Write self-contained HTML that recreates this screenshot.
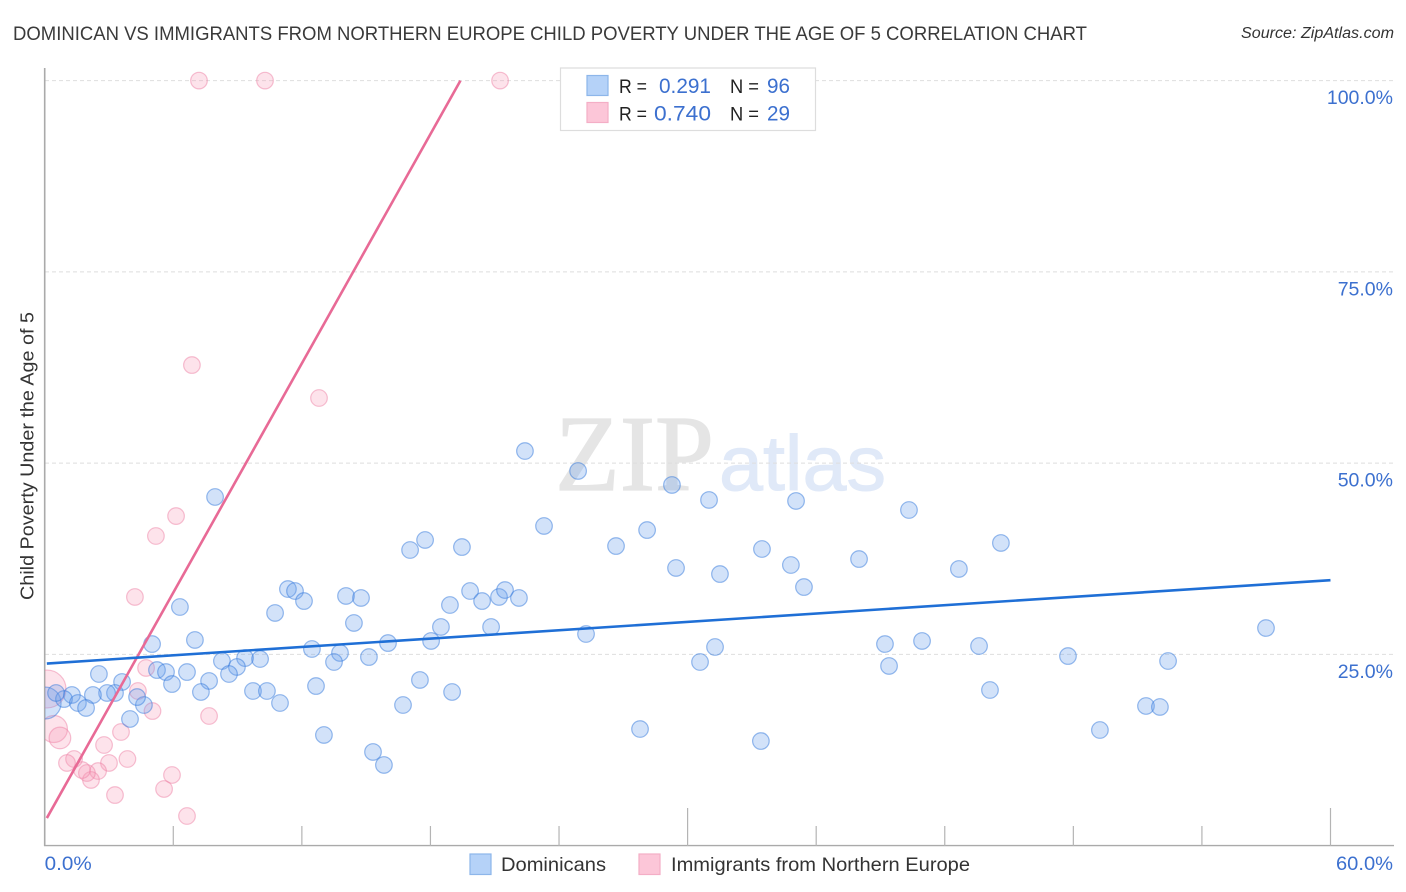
<!DOCTYPE html>
<html lang="en">
<head>
<meta charset="utf-8">
<title>Dominican vs Immigrants from Northern Europe Child Poverty Correlation Chart</title>
<style>
  html, body { margin: 0; padding: 0; background: #fff; }
  svg { display: block; font-family: "Liberation Sans", sans-serif; }
</style>
</head>
<body>
<svg id="chart" xmlns="http://www.w3.org/2000/svg" width="1406" height="892" viewBox="0 0 1406 892">
  <defs>
    <clipPath id="plot-clip"><rect x="45" y="60" width="1349" height="786"></rect></clipPath>
  </defs>
  <rect x="0" y="0" width="1406" height="892" fill="#ffffff"></rect>

  <text x="13" y="40" font-size="19.5" fill="#3a3a3a" textLength="1074" lengthAdjust="spacingAndGlyphs">DOMINICAN VS IMMIGRANTS FROM NORTHERN EUROPE CHILD POVERTY UNDER THE AGE OF 5 CORRELATION CHART</text>
  <text x="1394" y="38" font-size="15.5" font-style="italic" fill="#333333" text-anchor="end" textLength="153" lengthAdjust="spacingAndGlyphs">Source: ZipAtlas.com</text>

  <g>
    <text x="555" y="490" font-family="'Liberation Serif', serif" font-size="108" fill="#e5e5e5" stroke="#e5e5e5" stroke-width="1.2" textLength="159" lengthAdjust="spacingAndGlyphs">ZIP</text>
    <text x="719" y="490" font-size="78" fill="#e0e9f8" stroke="#e0e9f8" stroke-width="1" textLength="167" lengthAdjust="spacingAndGlyphs">atlas</text>
  </g>

  <g id="grid"></g>
  <g id="axes"></g>
  <g id="points" clip-path="url(#plot-clip)"></g>
  <g id="trends"></g>
  <g id="labels"></g>

  <text transform="translate(33.5 600) rotate(-90)" x="0" y="0" font-size="18.5" fill="#333333" textLength="288" lengthAdjust="spacingAndGlyphs">Child Poverty Under the Age of 5</text>

  <g>
    <rect x="560.5" y="68" width="255" height="62.5" fill="#ffffff" stroke="#dddddd" stroke-width="1.2"></rect>
    <rect x="587" y="75.5" width="21" height="20" fill="#b5d2f8" stroke="#8db6ea" stroke-width="1.2"></rect>
    <rect x="587" y="102.5" width="21" height="20" fill="#fcc6d8" stroke="#f4aec6" stroke-width="1.2"></rect>
    <text x="619" y="93" font-size="19.5" fill="#222222" textLength="28" lengthAdjust="spacingAndGlyphs">R =</text>
    <text x="711" y="93" font-size="21.5" fill="#3c70cf" text-anchor="end" textLength="52" lengthAdjust="spacingAndGlyphs">0.291</text>
    <text x="730" y="93" font-size="19.5" fill="#222222" textLength="29" lengthAdjust="spacingAndGlyphs">N =</text>
    <text x="767" y="93" font-size="21.5" fill="#3c70cf" textLength="23" lengthAdjust="spacingAndGlyphs">96</text>
    <text x="619" y="120.5" font-size="19.5" fill="#222222" textLength="28" lengthAdjust="spacingAndGlyphs">R =</text>
    <text x="711" y="120.5" font-size="21.5" fill="#3c70cf" text-anchor="end" textLength="57" lengthAdjust="spacingAndGlyphs">0.740</text>
    <text x="730" y="120.5" font-size="19.5" fill="#222222" textLength="29" lengthAdjust="spacingAndGlyphs">N =</text>
    <text x="767" y="120.5" font-size="21.5" fill="#3c70cf" textLength="23" lengthAdjust="spacingAndGlyphs">29</text>
  </g>

  <g>
    <rect x="470" y="854" width="21" height="20.5" fill="#b5d2f8" stroke="#8db6ea" stroke-width="1.2"></rect>
    <text x="501" y="871" font-size="19.5" fill="#333333" textLength="105" lengthAdjust="spacingAndGlyphs">Dominicans</text>
    <rect x="639" y="854" width="21" height="20.5" fill="#fcc6d8" stroke="#f4aec6" stroke-width="1.2"></rect>
    <text x="671" y="871" font-size="19.5" fill="#333333" textLength="299" lengthAdjust="spacingAndGlyphs">Immigrants from Northern Europe</text>
  </g>
</svg>
<script>
const yTickValues = [25, 50, 75, 100];
const yTickLabels = ["25.0%", "50.0%", "75.0%", "100.0%"];
const xTickValues = [6, 12, 18, 24, 30, 36, 42, 48, 54, 60];
const xMajorTicks = [30, 60];
const xEndValues = [0, 60];
const xEndLabels = ["0.0%", "60.0%"];

// Large population points come first; weights default to 1.
const dominicanWeights = [3.7];
const dominicanX = [0.02,22.41,24.89,29.27,31.00,35.06,40.33,7.95,23.30,28.11,17.75,17.05,19.47,26.66,33.47,44.62,38.00,29.46,31.51,34.82,42.66,35.43,11.35,11.68,12.10,10.75,6.31,14.06,14.76,19.85,21.20,21.48,20.41,22.13,18.91,14.43,18.49,20.83,25.26,56.99,7.01,5.01,12.47,13.78,16.02,18.03,15.13,13.50,9.35,10.05,8.27,8.97,8.60,6.64,5.24,5.66,5.94,2.53,3.61,7.67,7.29,9.72,10.37,12.66,17.51,19.01,39.21,40.94,31.28,30.58,43.60,39.40,47.75,52.42,44.11,51.39,52.04,49.24,27.78,33.42,16.72,10.98,13.03,15.32,15.83,3.98,4.63,4.31,3.28,2.91,2.25,1.27,0.90,1.55,1.93,0.53];
const dominicanY = [18.64,51.58,48.97,47.14,45.18,45.05,43.87,45.57,41.78,41.25,39.95,38.64,39.03,39.16,38.77,39.56,37.46,36.29,35.50,36.68,36.16,33.80,33.54,33.28,31.97,30.41,31.19,32.63,32.37,33.28,32.50,33.41,31.97,32.37,31.45,29.10,28.58,28.58,27.66,28.44,26.88,26.35,25.70,25.18,26.48,26.75,24.65,24.00,24.52,24.39,24.13,23.35,22.43,22.69,22.95,22.69,21.12,22.43,21.39,21.52,20.08,20.21,20.21,20.86,21.65,20.08,26.35,26.75,25.96,24.00,26.09,23.48,24.78,24.13,20.34,18.25,18.12,15.11,15.24,13.67,18.38,18.64,14.46,12.24,10.54,16.55,18.38,19.42,19.95,19.95,19.69,19.69,19.16,18.64,17.99,19.95];

const immigrantWeights = [5.2, 2.65, 1.7];
const immigrantX = [0.11,0.43,0.71,7.20,10.28,21.25,6.87,12.80,6.13,5.19,4.21,4.73,4.35,5.03,7.67,3.56,2.77,3.86,3.00,2.49,2.16,1.97,1.74,1.37,1.04,3.28,5.94,5.57,6.64];
const immigrantY = [20.47,15.24,14.07,100,100,100,62.82,58.51,43.08,40.47,32.50,23.22,20.21,17.59,16.94,14.85,13.15,11.32,10.80,9.75,8.58,9.49,9.88,11.32,10.80,6.61,9.23,7.40,3.87];

const dominicanTrendX = [0.1, 60];
const dominicanTrendY = [23.8, 34.7];
const immigrantTrendX = [0.1, 19.4];
const immigrantTrendY = [3.6, 100];

const NS = 'http://www.w3.org/2000/svg';
const xScale = function (v) { return 44.7 + v * 21.43; };
const yScale = function (v) { return 845.6 - v * 7.65; };
const radiusFor = function (w) { return 8.3 * Math.sqrt(w); };

function make(tag, parentId, attrs, text) {
  const el = document.createElementNS(NS, tag);
  Object.keys(attrs).forEach(function (k) { el.setAttribute(k, attrs[k]); });
  if (text !== undefined) el.textContent = text;
  document.getElementById(parentId).appendChild(el);
  return el;
}

yTickValues.forEach(function (v, i) {
  const line = make('line', 'grid', { x1: 45, x2: 1394, y1: yScale(v), y2: yScale(v), stroke: '#dedede', 'stroke-width': 1, 'stroke-dasharray': '4 3' });
  
  
  const label = make('text', 'labels', { x: 1393, y: yScale(v) + 23.5, 'font-size': 19.5, fill: '#3c70cf', 'text-anchor': 'end' }, yTickLabels[i]);
  
  
});

const yAxis = make('line', 'axes', { x1: 44.7, x2: 44.7, y1: 68, y2: 846, stroke: '#aaaaaa', 'stroke-width': 1.6 });


const xAxis = make('line', 'axes', { x1: 44, x2: 1394, y1: 845.6, y2: 845.6, stroke: '#aaaaaa', 'stroke-width': 1.4 });



xTickValues.forEach(function (v) {
  const top = xMajorTicks.indexOf(v) >= 0 ? 808 : 826;
  const tick = make('line', 'axes', { x1: xScale(v), x2: xScale(v), y1: top, y2: 846, stroke: '#b4b4b4', 'stroke-width': 1.2 });
  
  
});

xEndValues.forEach(function (v, i) {
  const attrs = i === 0
    ? { x: xScale(v), y: 870, 'font-size': 19.5, fill: '#3c70cf', textLength: 47, lengthAdjust: 'spacingAndGlyphs' }
    : { x: 1393, y: 870, 'font-size': 19.5, fill: '#3c70cf', 'text-anchor': 'end', textLength: 57, lengthAdjust: 'spacingAndGlyphs' };
  const label = make('text', 'labels', attrs, xEndLabels[i]);
  
  
});

immigrantX.forEach(function (v, i) {
  const w = immigrantWeights[i] === undefined ? 1 : immigrantWeights[i];
  const dot = make('circle', 'points', { cx: xScale(v), cy: yScale(immigrantY[i]), r: radiusFor(w), fill: 'rgba(247,150,180,0.27)', stroke: 'rgba(238,130,165,0.5)', 'stroke-width': 1.2 });
  
  
});

dominicanX.forEach(function (v, i) {
  const w = dominicanWeights[i] === undefined ? 1 : dominicanWeights[i];
  const dot = make('circle', 'points', { cx: xScale(v), cy: yScale(dominicanY[i]), r: radiusFor(w), fill: 'rgba(105,160,235,0.3)', stroke: 'rgba(50,120,220,0.5)', 'stroke-width': 1.2 });
  
  
});

const pinkTrend = make('line', 'trends', { x1: xScale(immigrantTrendX[0]), y1: yScale(immigrantTrendY[0]), x2: xScale(immigrantTrendX[1]), y2: yScale(immigrantTrendY[1]), stroke: '#e86a96', 'stroke-width': 2.6 });


const blueTrend = make('line', 'trends', { x1: xScale(dominicanTrendX[0]), y1: yScale(dominicanTrendY[0]), x2: xScale(dominicanTrendX[1]), y2: yScale(dominicanTrendY[1]), stroke: '#1f6fd6', 'stroke-width': 2.6 });


</script>
</body>
</html>
